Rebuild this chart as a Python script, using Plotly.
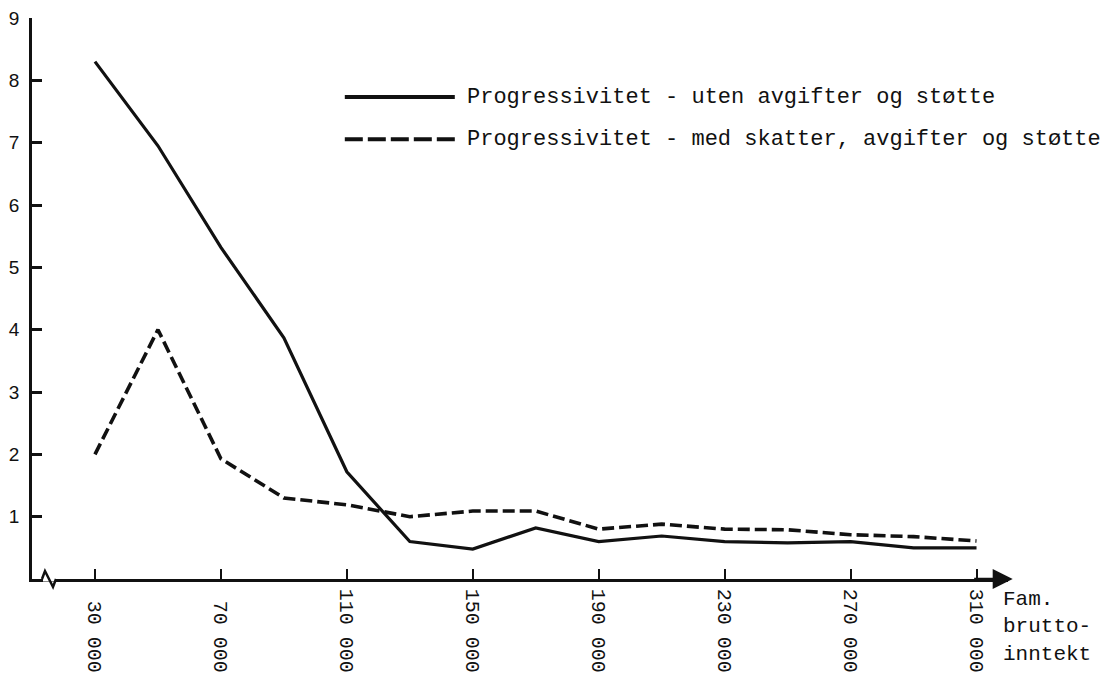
import plotly.graph_objects as go

# Data
income = [30000, 50000, 70000, 90000, 110000, 130000, 150000, 170000,
          190000, 210000, 230000, 250000, 270000, 290000, 310000]
prog_uten = [8.3, 6.95, 5.32, 3.87, 1.72, 0.6, 0.48, 0.82,
             0.6, 0.69, 0.6, 0.58, 0.6, 0.5, 0.5]
prog_med = [2.0, 4.0, 1.93, 1.3, 1.19, 1.0, 1.09, 1.09,
            0.8, 0.88, 0.8, 0.79, 0.71, 0.68, 0.61]
x_tickvals = [30000, 70000, 110000, 150000, 190000, 230000, 270000, 310000]
x_ticktext = ["\u00a030\u00a0000", "\u00a070\u00a0000", "110\u00a0000", "150\u00a0000",
              "190\u00a0000", "230\u00a0000", "270\u00a0000", "310\u00a0000"]
y_tickvals = [1, 2, 3, 4, 5, 6, 7, 8, 9]
name_uten = "Progressivitet - uten avgifter og støtte"
name_med = "Progressivitet - med skatter, avgifter og støtte"
x_title = "Fam.<br>brutto-<br>inntekt"

INK = "#111111"
MONO = "Liberation Mono, Courier New, monospace"

fig = go.Figure()
fig.add_trace(go.Scatter(x=income, y=prog_uten, mode="lines", name=name_uten,
                         line=dict(color=INK, width=3.2), showlegend=False))
fig.add_trace(go.Scatter(x=income, y=prog_med, mode="lines", name=name_med,
                         line=dict(color=INK, width=3.6, dash="12px,5px"), showlegend=False))

fig.update_layout(
    width=1114, height=683,
    margin=dict(l=32, r=105.5, t=18, b=104),
    paper_bgcolor="white", plot_bgcolor="white",
    showlegend=False,
    xaxis=dict(range=[10000, 320000], showgrid=False, zeroline=False, automargin=False,
               showline=True, linecolor=INK, linewidth=2.5,
               tickvals=x_tickvals, ticktext=x_ticktext, tickangle=90,
               ticks="inside", ticklen=10, tickwidth=2, tickcolor=INK,
               ticklabelstandoff=3,
               tickfont=dict(family=MONO, size=20, color=INK)),
    yaxis=dict(range=[0, 9], showgrid=False, zeroline=False, automargin=False,
               showline=True, linecolor=INK, linewidth=2.5,
               tickvals=y_tickvals, ticks="inside", ticklen=10, tickwidth=2.5,
               tickcolor=INK, ticklabelstandoff=6,
               tickfont=dict(family="Liberation Sans, Arial, sans-serif", size=19, color=INK)),
)

# Legend samples and text
fig.add_shape(type="line", xref="paper", yref="paper", x0=0.3205, x1=0.4332,
              y0=0.859, y1=0.859, line=dict(color=INK, width=4))
fig.add_shape(type="line", xref="paper", yref="paper", x0=0.3205, x1=0.4332,
              y0=0.784, y1=0.784, line=dict(color=INK, width=4, dash="18px,5px"))
fig.add_annotation(xref="paper", yref="paper", x=0.4434, y=0.859, text=name_uten,
                   showarrow=False, xanchor="left", yanchor="middle",
                   font=dict(family=MONO, size=22, color=INK))
fig.add_annotation(xref="paper", yref="paper", x=0.4434, y=0.784, text=name_med,
                   showarrow=False, xanchor="left", yanchor="middle",
                   font=dict(family=MONO, size=22, color=INK))

# Axis title
fig.add_annotation(xref="paper", yref="paper", x=0.9933, y=-0.012, text=x_title,
                   showarrow=False, xanchor="left", yanchor="top", align="left",
                   font=dict(family=MONO, size=21, color=INK))

# Arrow at end of x axis
fig.add_annotation(xref="paper", yref="paper", x=1.0048, y=0, ax=-40, ay=0,
                   axref="pixel", ayref="pixel", text="", showarrow=True,
                   arrowhead=2, arrowsize=1.6, arrowwidth=2.5, arrowcolor=INK)

# Axis break symbol
fig.add_shape(type="line", xref="paper", yref="paper", xsizemode="pixel", ysizemode="pixel",
              xanchor=0, yanchor=0, x0=11, x1=23, y0=0, y1=0,
              line=dict(color="white", width=5), layer="above")
fig.add_shape(type="path", xref="paper", yref="paper", xsizemode="pixel", ysizemode="pixel",
              xanchor=0, yanchor=0, path="M 10,0 L 13,8 L 21,-8 L 24,0",
              line=dict(color=INK, width=2.5), layer="above")

fig.write_html("out.html", config={"displayModeBar": False},
               post_script="document.body.style.margin='0';document.body.style.overflow='hidden';")
